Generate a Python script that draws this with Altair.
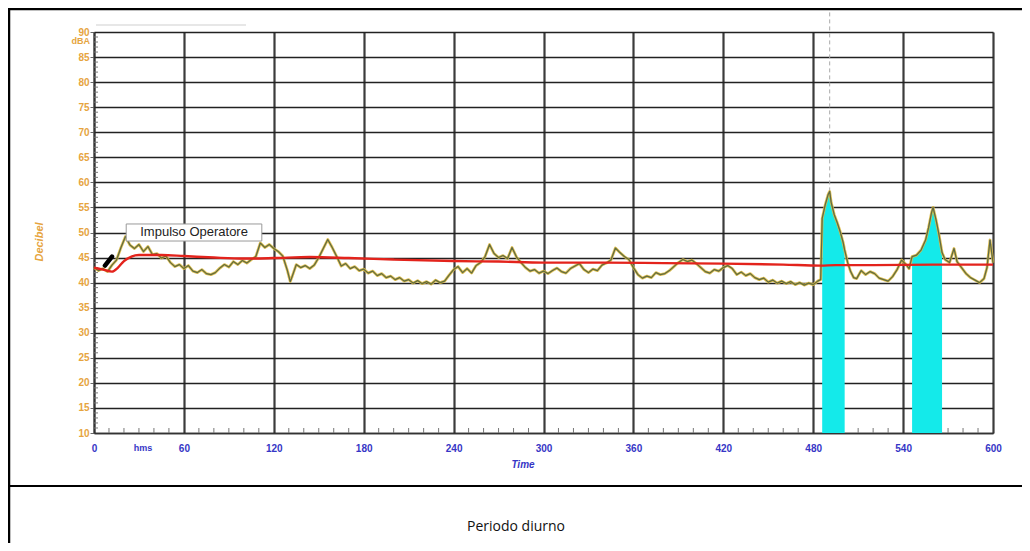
import altair as alt
import pandas as pd

# ---- data ----
trace_t = [0, 3, 6, 9, 12, 15, 18, 21, 24, 27, 30, 33, 36, 39, 42, 45, 48, 51, 54, 57,
           60, 63, 66, 69, 72, 75, 78, 81, 84, 87, 90, 93, 96, 99, 102, 105, 108, 111, 114, 117,
           120, 123, 126, 129, 131, 132, 135, 138, 141, 144, 147, 150, 153, 156, 159, 162, 165, 168, 171, 174,
           177, 180, 183, 186, 189, 192, 195, 198, 201, 204, 207, 210, 213, 216, 219, 222, 225, 228, 231, 234,
           237, 240, 243, 246, 249, 252, 255, 258, 261, 264, 267, 270, 273, 276, 279, 282, 285, 288, 291, 294,
           297, 300, 303, 306, 309, 312, 315, 318, 321, 324, 327, 330, 333, 336, 339, 342, 345, 348, 351, 354,
           357, 360, 363, 366, 369, 372, 375, 378, 381, 384, 387, 390, 393, 396, 399, 402, 405, 408, 411, 414,
           417, 420, 423, 426, 429, 432, 435, 438, 441, 444, 447, 450, 453, 456, 459, 462, 465, 468, 471, 474,
           477, 480, 483, 485, 486, 488, 490, 491, 492, 494, 496, 498, 500, 501, 503, 505, 507, 509, 512, 515,
           518, 521, 524, 527, 530, 533, 536, 539, 542, 544, 546, 549, 552, 555, 557, 559, 560, 562, 564, 566,
           568, 571, 574, 576, 579, 582, 585, 588, 591, 594, 596, 598, 600]
trace_db = [43.0, 42.4, 42.8, 42.2, 43.5, 44.5, 47.0, 49.2, 47.5, 46.8, 47.6, 46.2, 47.2, 45.6, 45.8, 44.9, 45.3, 44.0, 43.2, 43.6,
            42.8, 43.4, 42.3, 42.0, 42.6, 41.8, 41.6, 42.0, 42.9, 43.6, 43.1, 44.2, 43.6, 44.4, 43.9, 44.6, 45.2, 47.9, 47.0, 47.6,
            46.8, 46.2, 45.3, 42.5, 40.2, 41.0, 43.6, 43.0, 43.4, 42.8, 43.5, 45.0, 46.8, 48.6, 47.0, 45.2, 43.3, 43.8, 42.8, 43.2,
            42.4, 42.7, 41.9, 42.3, 41.4, 41.8, 41.0, 41.3, 40.6, 41.0, 40.3, 40.6, 39.9, 40.4, 39.8, 40.2, 39.7, 40.5, 40.0, 40.3,
            41.5, 42.6, 43.2, 42.0, 42.8, 41.9, 43.4, 44.0, 45.2, 47.6, 45.8, 45.0, 45.4, 44.8, 47.0, 45.1, 44.0, 43.0, 42.3, 42.6,
            41.9, 42.3, 41.8, 42.4, 42.9, 42.2, 41.9, 42.8, 43.3, 43.8, 42.6, 42.0, 42.7, 42.4, 43.5, 43.9, 44.5, 46.9, 46.0, 45.2,
            44.6, 43.0, 41.6, 40.9, 41.3, 41.0, 42.0, 41.6, 41.8, 42.4, 43.2, 44.0, 44.6, 44.2, 44.5, 43.8, 43.0, 42.2, 41.9, 42.6,
            42.3, 43.0, 43.4, 42.8, 41.6, 42.1, 41.4, 41.8, 41.0, 40.6, 40.9, 40.1, 40.5, 39.9, 40.3, 39.8, 40.2, 39.6, 40.0, 39.5,
            39.9, 39.6, 40.3, 40.6, 52.8, 55.5, 57.6, 58.2, 56.0, 53.6, 52.0, 50.2, 48.0, 46.5, 44.0, 42.2, 41.0, 40.8, 42.4, 41.6,
            42.2, 41.8, 40.9, 40.6, 40.3, 41.2, 42.6, 44.5, 43.6, 42.8, 45.2, 45.5, 46.5, 48.5, 51.0, 54.0, 55.0, 52.5, 49.5, 46.0,
            44.6, 44.0, 46.8, 44.2, 43.0, 41.8, 41.0, 40.5, 40.0, 40.8, 43.0, 48.5, 44.0]

leq_t = [0, 6, 12, 16, 20, 25, 30, 45, 60, 80, 100, 120, 144, 170, 200, 240, 270, 300, 340, 380, 420, 460, 485, 495, 520, 560, 600]
leq_db = [43.0, 42.6, 42.2, 43.0, 44.3, 45.2, 45.5, 45.5, 45.3, 45.0, 44.8, 44.9, 45.1, 44.9, 44.6, 44.3, 44.2, 44.0, 44.0, 43.9,
          43.8, 43.6, 43.4, 43.5, 43.5, 43.6, 43.6]

cyan1_t = [486, 488, 490, 491, 492, 494, 496, 498, 500, 501]
cyan1_db = [52.8, 55.5, 57.6, 58.2, 56.0, 53.6, 52.0, 50.2, 48.0, 46.5]
cyan2_t = [546, 549, 552, 555, 557, 559, 560, 562, 564, 566]
cyan2_db = [45.2, 45.5, 46.5, 48.5, 51.0, 54.0, 55.0, 52.5, 49.5, 46.0]

annot_label = ["Impulso Operatore"]
annot_t = [66.8]
annot_db = [50.1]
annot_box_t = [21.5, 112.0]
annot_box_db = [48.3, 51.7]

marker_t = [7.3, 12.0]
marker_db = [43.4, 45.2]

cursor_t = [491]
cursor_db = [58.2]

x_ticks = [0, 60, 120, 180, 240, 300, 360, 420, 480, 540, 600]
y_ticks = [10, 15, 20, 25, 30, 35, 40, 45, 50, 55, 60, 65, 70, 75, 80, 85, 90]
x_minor = [v for v in range(0, 601, 10) if v % 60]
y_minor = [v for v in range(10, 91) if v % 5]

ORANGE = "#e6a43e"
BLUE = "#3636c6"
FONT = "Liberation Sans"

XS = alt.Scale(domain=[0, 600], nice=False, zero=False)
YS = alt.Scale(domain=[10, 90], nice=False, zero=False)

X_AXIS = alt.Axis(values=x_ticks, grid=True, gridColor="#3c3c3c", gridWidth=2.2,
                  ticks=False, labelColor=BLUE, labelFont=FONT, labelFontWeight="bold",
                  labelFontSize=10, labelPadding=10, labelFlush=False,
                  domainColor="#333", domainWidth=1.5, title=None)
Y_AXIS = alt.Axis(values=y_ticks, grid=True, gridColor="#222", gridWidth=1.7,
                  tickSize=4, tickColor="#666", labelColor=ORANGE, labelFont=FONT,
                  labelFontWeight="bold", labelFontSize=10, labelPadding=1, labelFlush=False,
                  domainColor="#333", domainWidth=1.5, title=None)


def X(field="t"):
    return alt.X(f"{field}:Q", scale=XS, axis=X_AXIS, title=None)


def Y(field="db"):
    return alt.Y(f"{field}:Q", scale=YS, axis=Y_AXIS, title=None)


trace_df = pd.DataFrame({"t": trace_t, "db": trace_db})
leq_df = pd.DataFrame({"t": leq_t, "db": leq_db})
cyan_df = pd.DataFrame({"t": cyan1_t + cyan2_t, "db": cyan1_db + cyan2_db,
                        "g": ["a"] * len(cyan1_t) + ["b"] * len(cyan2_t)})

yminor = alt.Chart(pd.DataFrame({"db": y_minor})).mark_rule(color="#777", strokeWidth=1).encode(
    y=Y(), x=alt.value(0), x2=alt.value(4))
xminor = alt.Chart(pd.DataFrame({"t": x_minor})).mark_rule(color="#777", strokeWidth=1).encode(
    x=X(), y=alt.value(401), y2=alt.value(396))

cyan = alt.Chart(cyan_df).mark_area(color="#14eaea", opacity=1, interpolate="linear").encode(
    x=X(), y=Y(), y2=alt.datum(10), detail="g:N")

cursor = alt.Chart(pd.DataFrame({"t": cursor_t, "db": cursor_db})).mark_rule(
    color="#aaaaaa", strokeWidth=1, strokeDash=[4, 3]).encode(x=X(), y=Y(), y2=alt.value(-22))

tr_y = alt.Chart(trace_df).mark_line(color="#dcb846", strokeWidth=2.8, opacity=0.9, strokeJoin="round").encode(x=X(), y=Y())
tr_g = alt.Chart(trace_df).mark_line(color="#75802a", strokeWidth=1.2, strokeJoin="round").encode(x=X(), y=Y())
tr_d = alt.Chart(trace_df).mark_line(color="#4a5068", strokeWidth=0.7, opacity=0.7, strokeJoin="round").encode(x=X(), y=Y())

leq = alt.Chart(leq_df).mark_line(color="#e3231c", strokeWidth=2.4, interpolate="monotone").encode(x=X(), y=Y())

marker = alt.Chart(pd.DataFrame({"t": marker_t, "db": marker_db})).mark_line(
    color="black", strokeWidth=4.5, strokeCap="round").encode(x=X(), y=Y())

box = alt.Chart(pd.DataFrame({"t": [annot_box_t[0]], "t2": [annot_box_t[1]],
                              "db": [annot_box_db[0]], "db2": [annot_box_db[1]]})).mark_rect(
    fill="white", stroke="#9a9a9a", strokeWidth=1).encode(
    x=X(), x2="t2:Q", y=Y(), y2="db2:Q")
label = alt.Chart(pd.DataFrame({"label": annot_label, "t": annot_t, "db": annot_db})).mark_text(
    font=FONT, fontSize=13, color="#222", align="center", baseline="middle").encode(
    x=X(), y=Y(), text="label:N")


def txt(s, x, y, **kw):
    return alt.Chart(pd.DataFrame({"s": [s]})).mark_text(**kw).encode(
        text="s:N", x=alt.value(x), y=alt.value(y))


dba = txt("dBA", -4, 9, font=FONT, fontSize=9, fontWeight="bold", color=ORANGE, align="right", baseline="middle")
decibel = txt("Decibel", -54, 210, font=FONT, fontSize=11, fontStyle="italic", fontWeight="bold",
              color=ORANGE, angle=270, align="center", baseline="middle")
hms = txt("hms", 49, 416, font=FONT, fontSize=9, fontWeight="bold", color=BLUE, align="center", baseline="middle")
time_t = txt("Time", 429, 433, font=FONT, fontSize=10, fontStyle="italic", fontWeight="bold",
             color=BLUE, align="center", baseline="middle")
caption = txt("Periodo diurno", 422, 495, font="Open Sans", fontSize=14, color="#111",
              align="center", baseline="middle")

sep = alt.Chart(pd.DataFrame({"a": [0]})).mark_rule(color="black", strokeWidth=2).encode(
    x=alt.value(-86), x2=alt.value(930), y=alt.value(454))
top_border = alt.Chart(pd.DataFrame({"a": [0]})).mark_rule(color="black", strokeWidth=2.5).encode(
    x=alt.value(-86), x2=alt.value(930), y=alt.value(-23))
left_border = alt.Chart(pd.DataFrame({"a": [0]})).mark_rule(color="black", strokeWidth=2.5).encode(
    x=alt.value(-85), y=alt.value(-24), y2=alt.value(520))
title_line = alt.Chart(pd.DataFrame({"a": [0]})).mark_rule(color="#cfcfcf", strokeWidth=1).encode(
    x=alt.value(2), x2=alt.value(152), y=alt.value(-7))

chart = alt.layer(
    yminor, xminor, cyan, cursor, tr_y, tr_g, tr_d, leq, marker, box, label,
    dba, decibel, hms, time_t, caption, sep, top_border, left_border, title_line
).properties(
    width=899, height=401,
    autosize=alt.AutoSizeParams(type="none"),
    padding={"left": 86, "top": 24, "right": 29, "bottom": 110},
).configure_view(strokeWidth=0).configure(background="white")

chart.save("out.html", embed_options={"renderer": "svg", "actions": False})
